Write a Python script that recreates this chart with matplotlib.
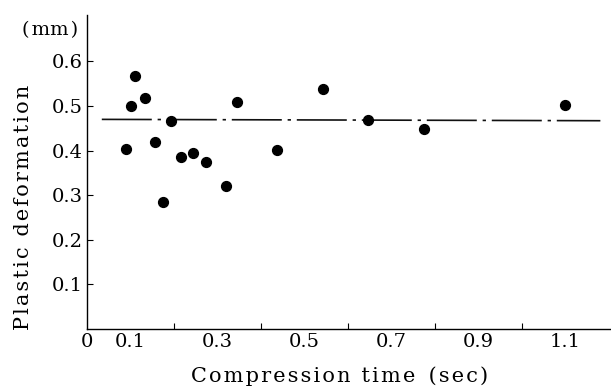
import matplotlib
matplotlib.use("Agg")
import matplotlib.pyplot as plt

# compression time (sec) vs plastic deformation (mm)
comp_time = [0.090, 0.100, 0.110, 0.133, 0.156, 0.175, 0.193, 0.216, 0.244,
             0.273, 0.320, 0.344, 0.437, 0.542, 0.647, 0.775, 1.099]
plastic_def = [0.403, 0.501, 0.567, 0.519, 0.419, 0.285, 0.467, 0.386, 0.394,
               0.374, 0.321, 0.508, 0.401, 0.537, 0.469, 0.449, 0.502]

# mean line
mean_x = [0.034, 1.18]
mean_y = [0.470, 0.467]

xtick_pos = [0, 0.1, 0.3, 0.5, 0.7, 0.9, 1.1]
xtick_lab = ['0', '0.1', '0.3', '0.5', '0.7', '0.9', '1.1']
ytick_pos = [0.1, 0.2, 0.3, 0.4, 0.5, 0.6]
ytick_lab = ['0.1', '0.2', '0.3', '0.4', '0.5', '0.6']

plt.rcParams['font.family'] = 'DejaVu Serif'

def spaced(s):
    # wide letter spacing like the printed figure
    return '\u200a'.join(s)

fig = plt.figure(figsize=(6.11, 3.92), dpi=100)
ax = fig.add_axes([0.1424, 0.1607, 0.858, 0.801])

ax.plot(mean_x, mean_y, color='#111111', lw=1.2, dashes=(30, 3.5, 2, 3.5))
ax.scatter(comp_time, plastic_def, s=50, color='black', zorder=3)

ax.set_xlim(0, 1.205)
ax.set_ylim(0, 0.704)

for s in ['top', 'right']:
    ax.spines[s].set_visible(False)
ax.spines['left'].set_linewidth(1.0)
ax.spines['bottom'].set_linewidth(1.0)

ax.set_xticks([0.1 * i for i in range(1, 12)], minor=True)
ax.set_xticks(xtick_pos)
ax.set_xticklabels(xtick_lab, fontsize=14)
ax.set_yticks(ytick_pos)
ax.set_yticklabels(ytick_lab, fontsize=14)
ax.tick_params(axis='both', which='both', direction='in', length=4, width=0.8, pad=3)
ax.tick_params(axis='x', which='major', length=0)

ax.text(-0.02, 0.670, '(\u200amm\u200a)', fontsize=14, ha='right', va='center')

ax.set_xlabel(spaced('Compression time') + '  ' + spaced('(sec)'), fontsize=15)
ax.set_ylabel(spaced('Plastic deformation'), fontsize=15)
ax.xaxis.set_label_coords(0.481, -0.118)
ax.yaxis.set_label_coords(-0.103, 0.388)

fig.savefig('out.png', dpi=100)
